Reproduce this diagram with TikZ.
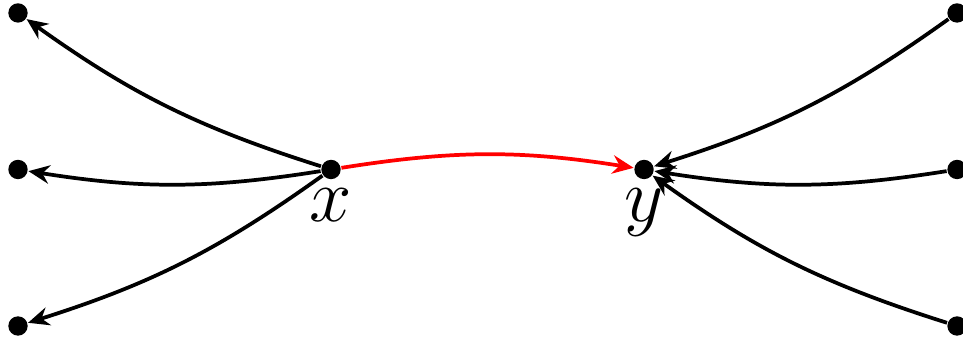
\documentclass[tikz,border=0pt]{standalone}
\usetikzlibrary{arrows.meta,positioning}

\begin{document}
\begin{tikzpicture}[x=0.25cm,y=0.25cm,
    dot/.style={circle,fill,inner sep=0pt,minimum size=4.4pt},
    arrow/.style={-{Stealth[length=4.8pt,width=4.2pt,inset=1.6pt]},line width=0.85pt},
    lab/.style={font=\LARGE}]
  \useasboundingbox (-0.575,-5.543) rectangle (30.19,5.415);
  \node[dot,label={[lab,label distance=-1.5pt]below:$x$}] (x) at (10,0) {};
  \node[dot,label={[lab,label distance=-1.5pt]below:$y$}] (y) at (20,0) {};
  \node[dot] (lt) at (0,5) {};
  \node[dot] (lm) at (0,0) {};
  \node[dot] (lb) at (0,-5) {};
  \node[dot] (rt) at (30,5) {};
  \node[dot] (rm) at (30,0) {};
  \node[dot] (rb) at (30,-5) {};
  \foreach \n in {lt,lm,lb}
    \draw[arrow] (x) to[bend left=9] (\n);
  \foreach \n in {rt,rm,rb}
    \draw[arrow] (\n) to[bend left=9] (y);
  \draw[arrow,red] (x) to[bend left=9] (y);
\end{tikzpicture}
\end{document}
